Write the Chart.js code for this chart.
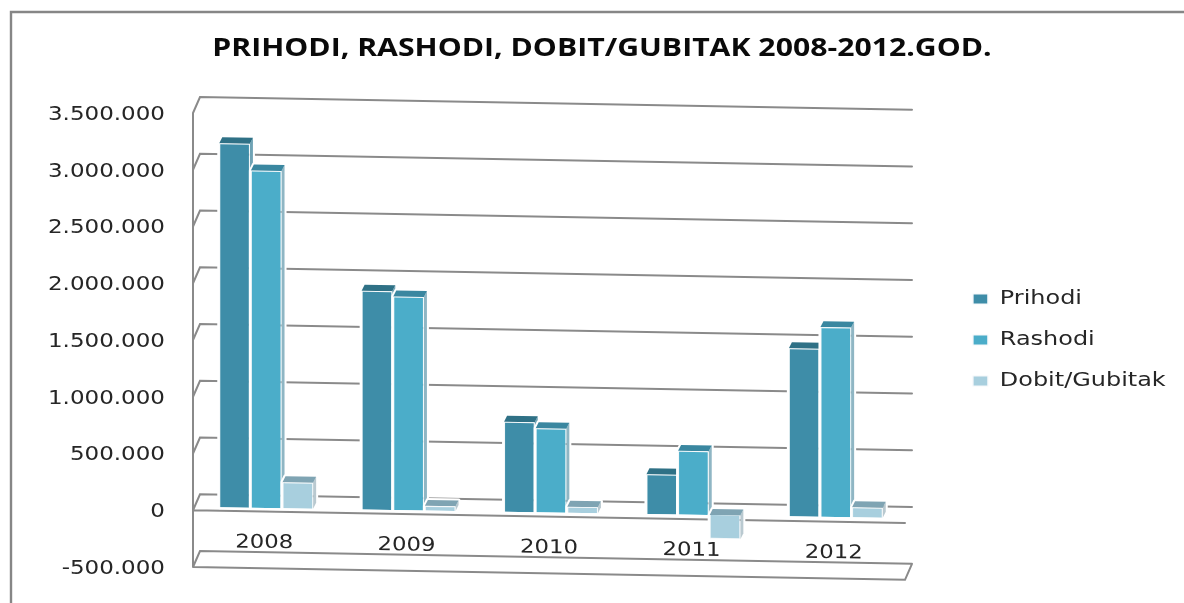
<!DOCTYPE html>
<html><head><meta charset="utf-8">
<style>html,body{margin:0;padding:0;background:#fff}canvas{display:block}</style>
<script src="https://cdn.jsdelivr.net/npm/chart.js@4/dist/chart.umd.js"></script>
</head><body><canvas id="c" width="1184" height="603"></canvas>
<script>
const categories = ['2008','2009','2010','2011','2012'];
const prihodi = [3207000,1927000,793000,350000,1480000];
const rashodi = [2970000,1880000,740000,560000,1670000];
const dobit = [229000,40000,53000,-210000,88000];
const seriesNames = ['Prihodi','Rashodi','Dobit/Gubitak'];
const titleText = 'PRIHODI, RASHODI, DOBIT/GUBITAK 2008-2012.GOD.';

const SLOPE = 0.018, BAR_SLOPE = 0.0158, FRONT_X = 193, BACK_DX = 7, BACK_DY = -16;
const GRID = '#8a8a8a', FONT = '"DejaVu Sans"', TEXT = '#262626';
const faces = [
  {front:'#3e8da8', top:'#2f7186', side:'#6fa3b5'},
  {front:'#4badc9', top:'#3a87a0', side:'#8fb6c4'},
  {front:'#a8cfde', top:'#7fa4b3', side:'#b9c9d0'}
];

class StretchLinear extends Chart.LinearScale {
  static id = 'stretchLinear';
  static defaults = Chart.LinearScale.defaults;
  drawLabels(area) {
    const ctx = this.ctx, items = this.getLabelItems(area);
    const rx = items.length ? items[0].options.translation[0] : 0;
    ctx.save();
    ctx.translate(165, 2); ctx.scale(1.21, 1); ctx.translate(-rx, 0);
    super.drawLabels(area);
    ctx.restore();
  }
}
class ShearCategory extends Chart.CategoryScale {
  static id = 'shearCategory';
  static defaults = Chart.CategoryScale.defaults;
  drawLabels(area) {
    const ctx = this.ctx;
    for (const item of this.getLabelItems(area)) {
      const [tx, ty] = item.options.translation;
      ctx.save();
      ctx.font = item.font.string;
      ctx.fillStyle = item.options.color;
      ctx.textAlign = 'center';
      ctx.textBaseline = 'middle';
      ctx.translate(tx, ty + SLOPE * (tx - FRONT_X));
      ctx.transform(1.2, SLOPE, 0, 1, 0, 0);
      ctx.fillText(item.label, 0, item.font.lineHeight / 2);
      ctx.restore();
    }
  }
}
Chart.register(StretchLinear, ShearCategory);

function drawFaces(ctx, meta, col) {
  const dx = 3, dy = -6;
  for (const el of meta.data) {
    const L = el.x - el.width / 2, R = el.x + el.width / 2;
    const T = Math.min(el.y, el.base), B = Math.max(el.y, el.base);
    ctx.beginPath();
    ctx.moveTo(L, B); ctx.lineTo(L, T); ctx.lineTo(L + dx, T + dy); ctx.lineTo(R + dx, T + dy);
    ctx.lineTo(R + dx, B + dy); ctx.lineTo(R, B); ctx.closePath();
    ctx.strokeStyle = '#fff'; ctx.lineWidth = 4; ctx.lineJoin = 'round'; ctx.stroke();
    ctx.fillStyle = col.side;
    ctx.beginPath();
    ctx.moveTo(R, T); ctx.lineTo(R + dx, T + dy); ctx.lineTo(R + dx, B + dy); ctx.lineTo(R, B); ctx.closePath(); ctx.fill();
    ctx.fillStyle = col.top;
    ctx.beginPath();
    ctx.moveTo(L, T); ctx.lineTo(R, T); ctx.lineTo(R + dx, T + dy); ctx.lineTo(L + dx, T + dy); ctx.closePath(); ctx.fill();
  }
}

const scene = {
  id: 'scene',
  beforeLayout(chart) {
    const l = chart.legend;
    if (l && !l._fitWrapped) {
      l._fitWrapped = true;
      const f = l.fit;
      l.fit = function () { f.call(this); this.width = 279; };
    }
  },
  beforeDraw(chart) {
    const ctx = chart.ctx, l = chart.legend, t = chart.titleBlock;
    ctx.save();
    ctx.strokeStyle = '#868686'; ctx.lineWidth = 2.4;
    ctx.beginPath(); ctx.moveTo(1184, 12); ctx.lineTo(11, 12); ctx.lineTo(11, 603); ctx.stroke();
    ctx.restore();
    if (l && !l._drawWrapped) {
      l._drawWrapped = true;
      const d = l.draw;
      l.draw = function () {
        const hb = this.legendHitBoxes[0], c = this.ctx;
        c.save();
        c.translate(973, 289.5 - hb.top);
        c.scale(1.26, 1);
        c.translate(-hb.left, 0);
        d.call(this);
        c.restore();
      };
    }
    if (t && !t._drawWrapped) {
      t._drawWrapped = true;
      const d = t.draw;
      t.draw = function () {
        const c = this.ctx;
        c.save();
        c.translate(602, 1);
        c.scale(1.208, 1);
        c.translate(-602, 0);
        d.call(this);
        c.restore();
      };
    }
  },
  beforeDatasetsDraw(chart) {
    const ctx = chart.ctx, y = chart.scales.y, a = chart.chartArea;
    const w = a.right - a.left;
    ctx.save();
    ctx.strokeStyle = GRID; ctx.lineCap = 'round';
    ctx.lineWidth = 2;
    ctx.beginPath();
    for (const t of y.ticks) {
      const py = y.getPixelForValue(t.value);
      ctx.moveTo(a.left, py);
      ctx.lineTo(a.left + BACK_DX, py + BACK_DY);
      ctx.lineTo(a.left + BACK_DX + w, py + BACK_DY + SLOPE * w);
    }
    ctx.moveTo(a.left, y.getPixelForValue(y.max));
    ctx.lineTo(a.left, y.getPixelForValue(y.min));
    const z = y.getPixelForValue(0), b = y.getPixelForValue(y.min);
    ctx.moveTo(a.left, z); ctx.lineTo(a.right, z + SLOPE * w);
    ctx.moveTo(a.left, b); ctx.lineTo(a.right, b + SLOPE * w);
    ctx.lineTo(a.right + BACK_DX, b + SLOPE * w + BACK_DY);
    ctx.stroke();
    ctx.restore();
    // Bars sit on a plane slightly behind the front floor edge; first series is drawn first,
    // so that each later series overlaps the side face of its left neighbour.
    ctx.save();
    ctx.transform(1, BAR_SLOPE, 0, 1, 0, -BAR_SLOPE * FRONT_X);
    ctx.translate(2, -3.5);
    chart.data.datasets.forEach((_, i) => {
      const meta = chart.getDatasetMeta(i);
      drawFaces(ctx, meta, faces[i]);
      meta.controller.draw();
    });
    ctx.restore();
    return false;
  }
};

const seriesValues = [prihodi, rashodi, dobit];
new Chart(document.getElementById('c'), {
  type: 'bar',
  data: {
    labels: categories,
    datasets: seriesNames.map((n, i) => ({
      label: n, data: seriesValues[i], backgroundColor: faces[i].front,
      borderColor: '#f4f8fa', borderWidth: 1, clip: false,
      categoryPercentage: 0.666, barPercentage: 0.97
    }))
  },
  plugins: [scene],
  options: {
    responsive: false, animation: false,
    layout: {padding: {left: 20, right: 0, top: 33, bottom: 36}},
    plugins: {
      title: {display: true, text: titleText, color: '#0a0a0a', padding: {top: 0, bottom: 50},
        font: {family: '"Open Sans"', size: 25, weight: 'bold', lineHeight: 1.2}},
      legend: {position: 'right', align: 'start',
        labels: {boxWidth: 11.8, boxHeight: 10, padding: 22, color: TEXT, font: {family: FONT, size: 19}}},
      tooltip: {enabled: false}
    },
    scales: {
      x: {type: 'shearCategory', position: {y: 0}, grid: {display: false}, border: {display: false},
        ticks: {color: TEXT, padding: 12, font: {family: FONT, size: 19}, maxRotation: 0}},
      y: {type: 'stretchLinear', min: -500000, max: 3500000, grid: {display: false}, border: {display: false},
        afterFit(s) { s.width = 173; },
        ticks: {stepSize: 500000, color: TEXT, font: {family: FONT, size: 19},
          callback: v => String(v).replace(/\B(?=(\d{3})+$)/g, '.')}}
    }
  }
});
</script></body></html>
